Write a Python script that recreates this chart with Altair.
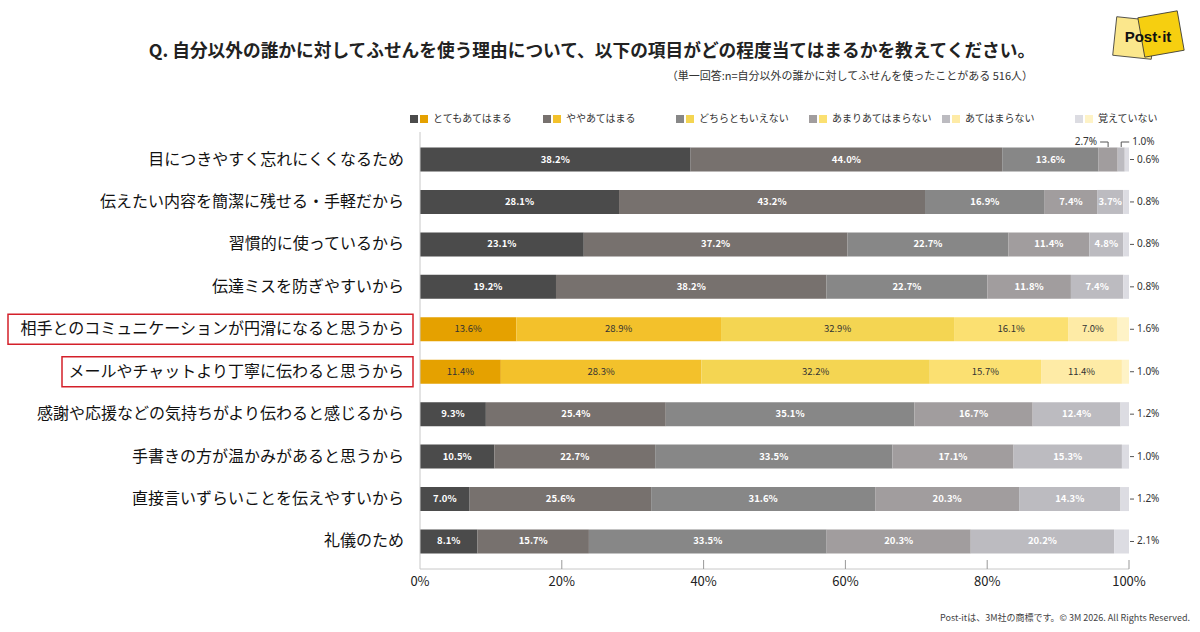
import altair as alt
import pandas as pd

# ---------------- data ----------------
items = [
    "目につきやすく忘れにくくなるため",
    "伝えたい内容を簡潔に残せる・手軽だから",
    "習慣的に使っているから",
    "伝達ミスを防ぎやすいから",
    "相手とのコミュニケーションが円滑になると思うから",
    "メールやチャットより丁寧に伝わると思うから",
    "感謝や応援などの気持ちがより伝わると感じるから",
    "手書きの方が温かみがあると思うから",
    "直接言いずらいことを伝えやすいから",
    "礼儀のため",
]
cats = ["とてもあてはまる", "ややあてはまる", "どちらともいえない",
        "あまりあてはまらない", "あてはまらない", "覚えていない"]

v_very = [38.2, 28.1, 23.1, 19.2, 13.6, 11.4, 9.3, 10.5, 7.0, 8.1]
v_some = [44.0, 43.2, 37.2, 38.2, 28.9, 28.3, 25.4, 22.7, 25.6, 15.7]
v_neither = [13.6, 16.9, 22.7, 22.7, 32.9, 32.2, 35.1, 33.5, 31.6, 33.5]
v_notmuch = [2.7, 7.4, 11.4, 11.8, 16.1, 15.7, 16.7, 17.1, 20.3, 20.3]
v_not = [1.0, 3.7, 4.8, 7.4, 7.0, 11.4, 12.4, 15.3, 14.3, 20.2]
v_dontknow = [0.6, 0.8, 0.8, 0.8, 1.6, 1.0, 1.2, 1.0, 1.2, 2.1]
series = [v_very, v_some, v_neither, v_notmuch, v_not, v_dontknow]

highlight = [items[4], items[5]]

gray_colors = ["#4b4b4b", "#77716e", "#878787", "#a19d9e", "#bcbbc0", "#dcdce2"]
yellow_colors = ["#e5a100", "#f3c12b", "#f4d552", "#fbe071", "#feeba6", "#fef3c7"]

title_text = "Q. 自分以外の誰かに対してふせんを使う理由について、以下の項目がどの程度当てはまるかを教えてください。"
subtitle_text = "（単一回答:n=自分以外の誰かに対してふせんを使ったことがある 516人）"
footer_text = "Post-itは、3M社の商標です。© 3M 2026. All Rights Reserved."
axis_values = [0, 0.2, 0.4, 0.6, 0.8, 1.0]

FONT = "Noto Sans CJK JP"
PLOT_W = 709
PLOT_H = 437

rows = []
for i, it in enumerate(items):
    pal = "y" if it in highlight else "g"
    for j, c in enumerate(cats):
        rows.append(dict(item=it, cat=c, order=j, value=series[j][i],
                         key=f"{pal}{j}", pal=pal))
df = pd.DataFrame(rows)

keys = [f"g{j}" for j in range(6)] + [f"y{j}" for j in range(6)]
key_colors = gray_colors + yellow_colors

xscale = alt.Scale(domain=[0, 1], nice=False)
yscale = alt.Scale(domain=items, paddingInner=0.434, paddingOuter=0.365)

base = (
    alt.Chart(df)
    .transform_window(cum="sum(value)", groupby=["item"],
                      sort=[alt.SortField("order")], frame=[None, 0])
    .transform_joinaggregate(tot="sum(value)", groupby=["item"])
    .transform_calculate(
        start="(datum.cum - datum.value) / datum.tot",
        end="datum.cum / datum.tot",
        mid="(2 * datum.cum - datum.value) / (2 * datum.tot)",
        label="format(datum.value, '.1f') + '%'",
    )
)

YY = alt.Y("item:N", scale=yscale, axis=None)

bars = base.mark_bar().encode(
    x=alt.X("start:Q", scale=xscale, axis=None),
    x2="end:Q",
    y=YY,
    color=alt.Color("key:N", scale=alt.Scale(domain=keys, range=key_colors),
                    legend=None),
)

inside_gray = base.transform_filter(
    "datum.order < 5 && datum.value >= 3 && datum.pal == 'g'"
).mark_text(font=FONT, fontSize=9.5, fontWeight="bold", color="white").encode(
    x=alt.X("mid:Q", scale=xscale, axis=None), y=YY, text="label:N")

inside_yellow = base.transform_filter(
    "datum.order < 5 && datum.value >= 3 && datum.pal == 'y'"
).mark_text(font=FONT, fontSize=9.5, color="#333").encode(
    x=alt.X("mid:Q", scale=xscale, axis=None), y=YY, text="label:N")

# outside labels for the last category
right_lines = base.transform_filter("datum.order == 5").mark_rule(
    color="#555", strokeWidth=1).encode(
    x=alt.value(710), x2=alt.value(714), y=YY)
right_text = base.transform_filter("datum.order == 5").mark_text(
    font="Noto Sans", fontSize=10, color="#333", align="left").encode(
    x=alt.value(717), y=YY, text="label:N")

# small segments labelled above the bar (left & right brackets)
small = base.transform_filter("datum.order < 5 && datum.value < 3")
small_left = small.transform_filter("datum.order == 3")
small_right = small.transform_filter("datum.order == 4")


def bracket(chart, sign, align):
    v = chart.transform_calculate(m2=f"datum.mid + ({sign}) * 0.0113")
    vert = v.mark_rule(color="#555", strokeWidth=1).encode(
        x=alt.X("mid:Q", scale=xscale, axis=None),
        y=alt.value(10), y2=alt.value(15))
    hor = v.mark_rule(color="#555", strokeWidth=1).encode(
        x=alt.X("mid:Q", scale=xscale, axis=None), x2="m2:Q", y=alt.value(10))
    txt = v.mark_text(font="Noto Sans", fontSize=10, color="#333",
                      align=align, dx=3 if align == "left" else -3).encode(
        x=alt.X("m2:Q", scale=xscale, axis=None), y=alt.value(10),
        text="label:N")
    return [vert, hor, txt]


# ---------------- axes (drawn from the same scales) ----------------
item_df = pd.DataFrame({"item": items})
y_labels = alt.Chart(item_df).mark_text(
    font=FONT, fontSize=16, color="#111", align="right").encode(
    y=YY, x=alt.value(-16), text="item:N")
y_domain = alt.Chart(item_df.head(1)).mark_rule(
    color="#c8c8c8", strokeWidth=1).encode(
    x=alt.value(0), y=alt.value(0), y2=alt.value(PLOT_H))
x_domain = alt.Chart(item_df.head(1)).mark_rule(
    color="#c8c8c8", strokeWidth=1).encode(
    x=alt.value(0), x2=alt.value(PLOT_W), y=alt.value(PLOT_H))
tick_df = pd.DataFrame({"t": axis_values})
x_ticks = alt.Chart(tick_df).transform_filter("datum.t > 0").mark_rule(
    color="#999", strokeWidth=1).encode(
    x=alt.X("t:Q", scale=xscale, axis=None),
    y=alt.value(PLOT_H - 9), y2=alt.value(PLOT_H))
x_labels = alt.Chart(tick_df).transform_calculate(
    lab="format(datum.t, '.0%')").mark_text(
    font=FONT, fontSize=13, color="#222").encode(
    x=alt.X("t:Q", scale=xscale, axis=None),
    y=alt.value(PLOT_H + 13), text="lab:N")

# red boxes around highlighted labels
box1 = alt.Chart(pd.DataFrame({"item": [highlight[0]]})).mark_bar(
    filled=False, stroke="#d4202a", strokeWidth=1.5, height=30).encode(
    x=alt.value(-412), x2=alt.value(-7), y=YY)
box2 = alt.Chart(pd.DataFrame({"item": [highlight[1]]})).mark_bar(
    filled=False, stroke="#d4202a", strokeWidth=1.5, height=30).encode(
    x=alt.value(-358), x2=alt.value(-7), y=YY)

# ---------------- legend (evenly spaced entries above the plot) ----------------
leg_df = pd.DataFrame({"cat": cats, "gc": gray_colors, "yc": yellow_colors,
                       "idx": list(range(len(cats)))})
leg_base = alt.Chart(leg_df).transform_calculate(
    lx=f"(-6 + datum.idx * 133) / {PLOT_W}")
LX = alt.X("lx:Q", scale=xscale, axis=None)
leg_g = leg_base.mark_square(size=64, opacity=1).encode(
    x=LX, y=alt.value(-13), color=alt.Color("gc:N", scale=None))
leg_y = leg_base.mark_square(size=64, opacity=1, xOffset=10).encode(
    x=LX, y=alt.value(-13), color=alt.Color("yc:N", scale=None))
leg_t = leg_base.mark_text(font=FONT, fontSize=10, color="#333",
                           align="left", dx=19).encode(
    x=LX, y=alt.value(-13), text="cat:N")

# ---------------- titles / footer / logo ----------------
one = pd.DataFrame({"t": [title_text], "s": [subtitle_text], "f": [footer_text],
                    "l": ["Post·it"]})
title = alt.Chart(one).mark_text(font=FONT, fontSize=17.7, fontWeight="bold",
                                 color="#222", align="center").encode(
    x=alt.value(172), y=alt.value(-80), text="t:N")
subtitle = alt.Chart(one).mark_text(font=FONT, fontSize=11, color="#333",
                                    align="right").encode(
    x=alt.value(613), y=alt.value(-55), text="s:N")
footer = alt.Chart(one).mark_text(font=FONT, fontSize=9, color="#444",
                                  align="right").encode(
    x=alt.value(770), y=alt.value(486), text="f:N")
logo_a = alt.Chart(one).mark_point(shape="square", filled=True, size=1500,
                                   angle=6, color="#fbe78c", opacity=1,
                                   stroke="#333", strokeWidth=0.8).encode(
    x=alt.value(714), y=alt.value(-94))
logo_b = alt.Chart(one).mark_point(shape="square", filled=True, size=1600,
                                   angle=350, color="#f6cf10", opacity=1,
                                   stroke="#333", strokeWidth=0.8).encode(
    x=alt.value(741), y=alt.value(-98))
logo_t = alt.Chart(one).mark_text(font="Liberation Sans", fontSize=15,
                                  fontWeight="bold", color="#111").encode(
    x=alt.value(728), y=alt.value(-95), text="l:N")

chart = alt.layer(
    bars, inside_gray, inside_yellow, right_lines, right_text,
    *bracket(small_left, -1, "right"),
    *bracket(small_right, 1, "left"),
    y_domain, x_domain, x_ticks, x_labels, y_labels,
    box1, box2,
    leg_g, leg_y, leg_t,
    title, subtitle, footer, logo_a, logo_b, logo_t,
).properties(
    width=PLOT_W, height=PLOT_H,
    autosize=alt.AutoSizeParams(type="none"),
    padding={"left": 420, "top": 132, "right": 71, "bottom": 63},
    background="white",
).configure_view(stroke=None)

chart.save("out.html", embed_options={"renderer": "svg", "actions": False})
